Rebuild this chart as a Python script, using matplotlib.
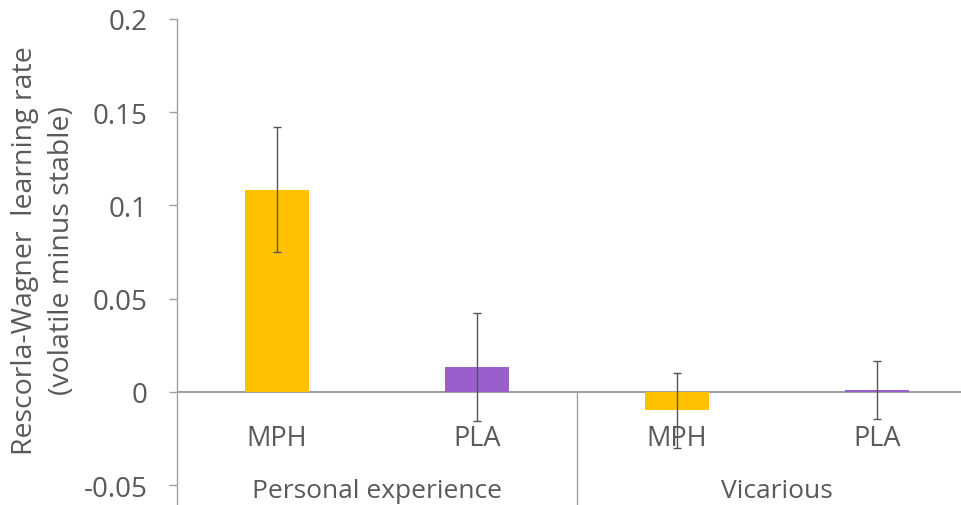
import matplotlib
matplotlib.use("Agg")
import matplotlib.pyplot as plt
import numpy as np

plt.rcParams['font.family'] = ['Open Sans', 'DejaVu Sans']

drugs = ["MPH", "PLA", "MPH", "PLA"]
groups = ["Personal experience", "Vicarious"]
values = [0.1085, 0.0131, -0.0100, 0.0010]
errors = [0.0337, 0.0290, 0.0200, 0.0158]
colors = ["#FFC000", "#9B5FCC", "#FFC000", "#9B5FCC"]
yticks = [-0.05, 0, 0.05, 0.1, 0.15, 0.2]
ytick_labels = ["-0.05", "0", "0.05", "0.1", "0.15", "0.2"]

text_c = "#595959"
axis_c = "#A0A0A0"

fig = plt.figure(figsize=(9.62, 5.06), dpi=100)
ax = fig.add_axes([177/962, 0.0, (962-177)/962, 1 - 20/506])

x = np.arange(len(values))
ax.bar(x, values, width=0.32, color=colors, zorder=2)
ax.errorbar(x, values, yerr=errors, fmt='none', ecolor="#555555",
            elinewidth=1.0, capsize=3, capthick=1.0, zorder=3)

ax.set_xlim(-0.5, 3.425)
ax.set_ylim(-0.0607, 0.2)
ax.axhline(0, color="#8C8C8C", lw=1.2, zorder=1)

for s in ["top", "right", "bottom"]:
    ax.spines[s].set_visible(False)
ax.spines["left"].set_color(axis_c)
ax.spines["left"].set_linewidth(1.0)

ax.set_yticks(yticks)
ax.set_yticklabels(ytick_labels)
ax.tick_params(axis='y', colors=axis_c, length=6, width=1.0, labelsize=20,
               labelcolor=text_c, pad=15)
ax.set_xticks([])

# category labels
for xi, lab in zip(x, drugs):
    ax.text(xi, -0.0245, lab, ha='center', va='center', fontsize=19.5, color=text_c)
for gi, g in enumerate(groups):
    ax.text(0.5 + 2*gi, -0.0530, g, ha='center', va='center', fontsize=19, color=text_c)

# separator between groups
ax.plot([1.5, 1.5], [0, -0.0607], color=axis_c, lw=1.0, clip_on=False)

fig.text(25/962, 0.505, "Rescorla-Wagner  learning rate", rotation=90,
         ha='center', va='center', fontsize=20.5, color=text_c)
fig.text(62/962, 0.505, "(volatile minus stable)", rotation=90,
         ha='center', va='center', fontsize=20.5, color=text_c)

fig.savefig("out.png", dpi=100)
